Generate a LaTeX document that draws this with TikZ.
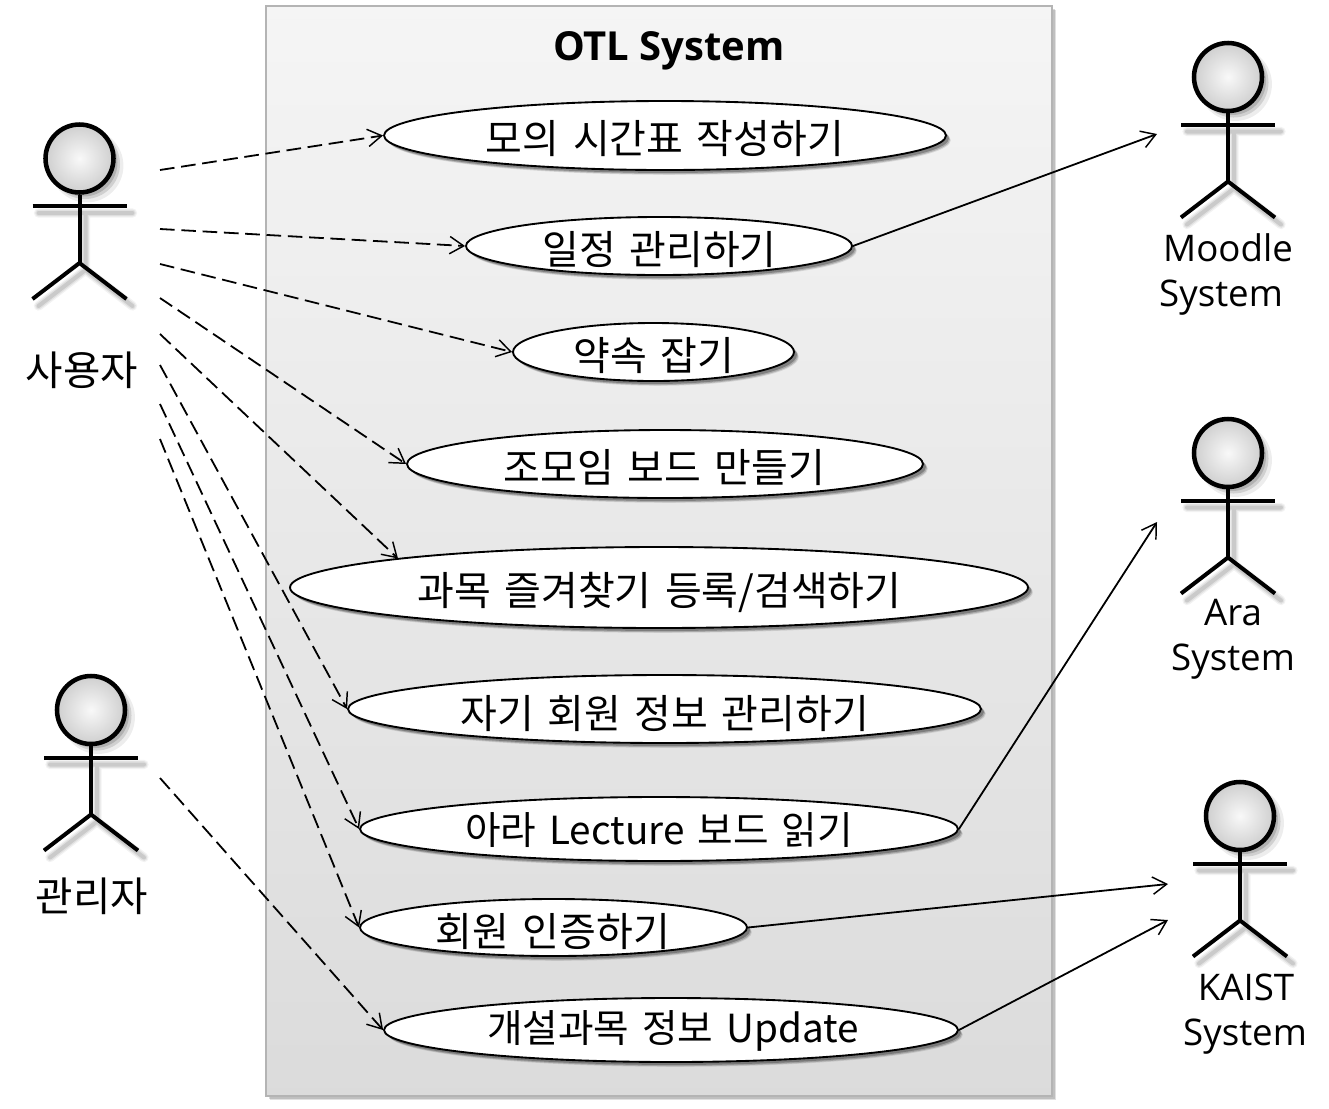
\documentclass[tikz,border=0pt]{standalone}
\usepackage{fontspec}
\setmainfont{Open Sans}
\newfontfamily\kr[WordSpace=1.5]{Noto Sans CJK KR}
\usetikzlibrary{arrows.meta,shapes.geometric,shadows,calc}
\definecolor{boxedge}{HTML}{B4B4B4}
\tikzset{
  softshadow/.style={
    general shadow={shadow xshift=3.6pt,shadow yshift=-3.6pt,fill=black,opacity=.10,shadow scale=1.0},
    general shadow={shadow xshift=3pt,shadow yshift=-3pt,fill=black,opacity=.18},
    general shadow={shadow xshift=2.2pt,shadow yshift=-2.2pt,fill=black,opacity=.25}},
  usecase/.style={ellipse,draw=black,line width=1.4pt,fill=white,inner sep=0pt,softshadow},
  uclabel/.style={font=\kr\fontsize{30}{32}\selectfont,inner sep=0pt,anchor=center},
  uclabelmixed/.style={font=\kr\fontsize{29}{32}\selectfont,inner sep=0pt,anchor=center},
  actorlabel/.style={font=\fontsize{27.5}{30}\selectfont,inner sep=0pt,anchor=center,align=center},
  krlabel/.style={font=\kr\fontsize{30.5}{32}\selectfont,inner sep=0pt,anchor=center},
  dep/.style={draw=black,line width=1.35pt,dash pattern=on 11pt off 5pt,-{Straight Barb[length=10.5pt,width=13pt,line width=1.1pt]}},
  assoc/.style={draw=black,line width=1.35pt,-{Straight Barb[length=10.5pt,width=13pt,line width=1.1pt]}},
  limb/.style={draw=black,line width=3pt},
  limbshadow/.style={draw=black,line cap=round},
  head/.style={circle,draw=black,line width=3.4pt,minimum size=51pt,inner sep=0pt,inner color=gray!5,outer color=gray!38,
    general shadow={shadow xshift=5pt,shadow yshift=-5pt,fill=black,opacity=.07,shadow scale=1.08},
    general shadow={shadow xshift=4pt,shadow yshift=-4pt,fill=black,opacity=.12,shadow scale=1.03},
    general shadow={shadow xshift=3pt,shadow yshift=-3pt,fill=black,opacity=.15}},
}
\newcommand{\stickman}[3]{%
  \begin{scope}[shift={(#2,#3)}]
    \coordinate (#1-al) at (-47,47.5);
    \coordinate (#1-ar) at (47,47.5);
    \coordinate (#1-hip) at (0,104.5);
    \coordinate (#1-fl) at (-47,140.5);
    \coordinate (#1-fr) at (47,140.5);
    \begin{scope}[shift={(6,7)}]
      \foreach \w/\o in {7pt/.05,5pt/.07,3pt/.10}{
        \draw[limbshadow,line width=\w,opacity=\o] (-47,47.5) -- (47,47.5) (0,47.5) -- (0,104.5) (-47,140.5) -- (0,104.5) -- (47,140.5);
      }
    \end{scope}
    \node[head] (#1) at (0,0) {};
    \draw[limb] (#1.south) -- (#1-hip);
    \draw[limb] (#1-al) -- (#1-ar);
    \draw[limb,line join=miter] (#1-fl) -- (#1-hip) -- (#1-fr);
  \end{scope}}
\begin{document}
\begin{tikzpicture}[x=0.75pt,y=-0.75pt]
\useasboundingbox (0,0) rectangle (1329,1108);
% system box
\fill[black,opacity=.12] (270,10) rectangle (1056,1100);
\fill[black,opacity=.15] (268.5,8.5) rectangle (1054.5,1098.5);
\node[draw=boxedge,line width=1.6pt,minimum width=589.5pt,minimum height=817.5pt,inner sep=0pt,top color=gray!8,bottom color=gray!28] (sys) at (659,551) {};
\node[font=\bfseries\fontsize{30}{32}\selectfont,inner sep=0pt] (title) at (669,51) {OTL System};
% use cases
\node[usecase,minimum width=421.5pt,minimum height=51.75pt] (e1) at (665,135.5) {};
\node[usecase,minimum width=289.5pt,minimum height=43.5pt] (e2) at (659,246) {};
\node[usecase,minimum width=210.75pt,minimum height=43.5pt] (e3) at (653.5,352) {};
\node[usecase,minimum width=387pt,minimum height=51pt] (e4) at (665,464) {};
\node[usecase,minimum width=553.5pt,minimum height=60.75pt] (e5) at (659,587.5) {};
\node[usecase,minimum width=474.75pt,minimum height=51pt] (e6) at (664.5,709) {};
\node[usecase,minimum width=448.5pt,minimum height=48pt] (e7) at (659,829) {};
\node[usecase,minimum width=290.25pt,minimum height=42.75pt] (e8) at (553.5,927.5) {};
\node[usecase,minimum width=430.5pt,minimum height=48pt] (e9) at (671,1030) {};
\node[uclabel] (t1) at (665,139) {모의 시간표 작성하기};
\node[uclabel] (t2) at (659.5,250) {일정 관리하기};
\node[uclabel] (t3) at (654,356) {약속 잡기};
\node[uclabel] (t4) at (664.5,468) {조모임 보드 만들기};
\node[uclabel] (t5) at (659.5,592) {과목 즐겨찾기 등록/검색하기};
\node[uclabel] (t6) at (665,714) {자기 회원 정보 관리하기};
\node[uclabelmixed] (t7) at (659,830) {아라 Lecture 보드 읽기};
\node[uclabel] (t8) at (553,932) {회원 인증하기};
\node[uclabelmixed] (t9) at (673,1031) {개설과목 정보 Update};
% actors
\stickman{user}{79.5}{158.5}
\stickman{admin}{91}{710}
\stickman{moodle}{1228}{77}
\stickman{ara}{1228}{453}
\stickman{kaist}{1240}{816}
\node[krlabel] (luser) at (82,370) {사용자};
\node[krlabel] (ladmin) at (92,896) {관리자};
\node[actorlabel] (lm1) at (1228,248) {Moodle};
\node[actorlabel] (lm2) at (1221,298) {System};
\node[actorlabel] (la1) at (1233,613) {Ara};
\node[actorlabel] (la2) at (1233,662) {System};
\node[actorlabel] (lk1) at (1246,987) {KAIST};
\node[actorlabel] (lk2) at (1245,1037) {System};
% free ends
\coordinate (s1) at (160,170);
\coordinate (s2) at (160,229);
\coordinate (s3) at (160,264);
\coordinate (s4) at (160,298);
\coordinate (s5) at (160,334);
\coordinate (s6) at (160,365);
\coordinate (s7) at (160,404);
\coordinate (s8) at (160,439);
\coordinate (s9) at (160,778);
\coordinate (r2) at (1157,134);
\coordinate (r7) at (1157,522);
\coordinate (r8) at (1168,884);
\coordinate (r9) at (1168,920);
% connectors
\draw[dep] (s1) -- (e1.west);
\draw[dep] (s2) -- (e2.west);
\draw[dep] (s3) -- (e3.west);
\draw[dep] (s4) -- (e4.west);
\draw[dep] (s5) -- ($(e5.center)+(-261,-29)$);
\draw[dep] (s6) -- (e6.west);
\draw[dep] (s7) -- (e7.west);
\draw[dep] (s8) -- (e8.west);
\draw[dep] (s9) -- (e9.west);
\draw[assoc] (e2.east) -- (r2);
\draw[assoc] (e7.east) -- (r7);
\draw[assoc] (e8.east) -- (r8);
\draw[assoc] (e9.east) -- (r9);
\end{tikzpicture}
\end{document}
